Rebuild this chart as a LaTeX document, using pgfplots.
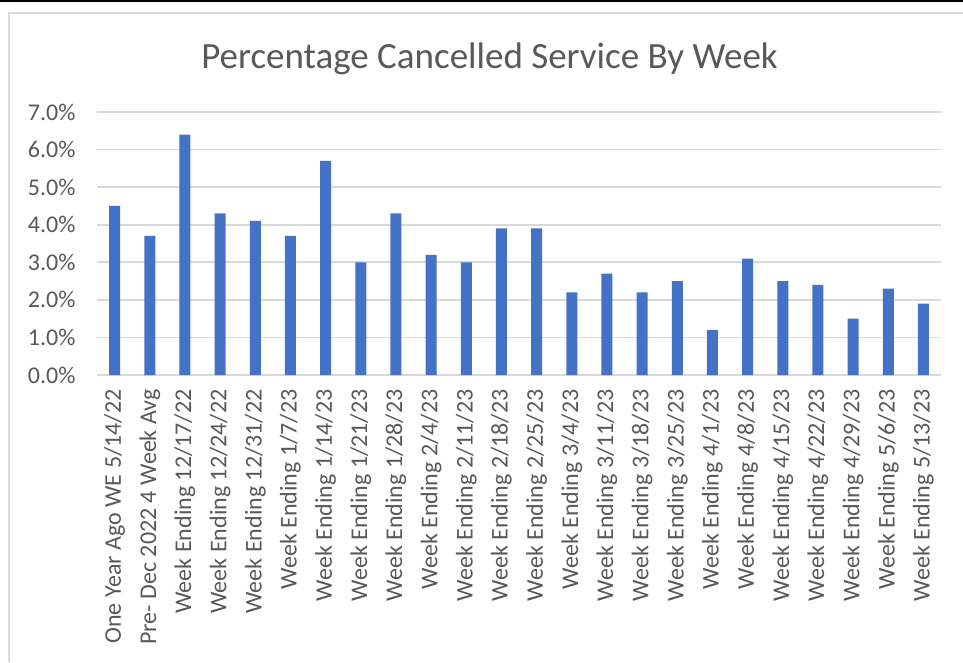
\documentclass[border=0pt]{standalone}
\usepackage{pgfplots}
\pgfplotsset{compat=1.18}
\usepackage{fontspec}
\setmainfont{Carlito}
\definecolor{barblue}{HTML}{4472C4}
\definecolor{gridgray}{HTML}{D9D9D9}
\definecolor{txtgray}{HTML}{595959}
\begin{document}
\begin{tikzpicture}
\useasboundingbox (0pt,0pt) rectangle (963pt,662pt);
\fill[white] (0pt,0pt) rectangle (963pt,662pt);
\draw[black, line width=2pt] (0pt,661pt) -- (963pt,661pt);
\draw[gridgray, line width=2pt] (8.5pt,0pt) -- (8.5pt,649pt) -- (963pt,649pt);
\node[anchor=base, text=txtgray, font=\fontsize{37}{43}\selectfont] at (489.5pt,593pt) {Percentage Cancelled Service By Week};
\begin{axis}[
  at={(97pt,287pt)}, anchor=south west,
  width=844pt, height=263pt, scale only axis,
  xmin=-0.5, xmax=23.5, ymin=0, ymax=7,
  axis line style={draw=none},
  tick style={draw=none},
  ymajorgrids, grid style={gridgray, line width=1.6pt},
  ytick={0,1,2,3,4,5,6,7},
  yticklabels={0.0\%,1.0\%,2.0\%,3.0\%,4.0\%,5.0\%,6.0\%,7.0\%},
  xtick={0,...,23},
  xticklabels={One Year Ago WE 5/14/22, Pre- Dec 2022 4 Week Avg, Week Ending 12/17/22, Week Ending 12/24/22, Week Ending 12/31/22, Week Ending 1/7/23, Week Ending 1/14/23, Week Ending 1/21/23, Week Ending 1/28/23, Week Ending 2/4/23, Week Ending 2/11/23, Week Ending 2/18/23, Week Ending 2/25/23, Week Ending 3/4/23, Week Ending 3/11/23, Week Ending 3/18/23, Week Ending 3/25/23, Week Ending 4/1/23, Week Ending 4/8/23, Week Ending 4/15/23, Week Ending 4/22/23, Week Ending 4/29/23, Week Ending 5/6/23, Week Ending 5/13/23},
  major tick length=0pt,
  ticklabel style={text=txtgray, font=\fontsize{24}{28}\selectfont},
  yticklabel style={anchor=east, xshift=-18pt},
  xticklabel style={rotate=90, anchor=east, xshift=-11pt},
  /pgf/number format/assume math mode=true,
  clip=false,
]
\addplot[ybar, bar width=11pt, fill=barblue, draw=none] coordinates {
(0,4.5) (1,3.7) (2,6.4) (3,4.3) (4,4.1) (5,3.7) (6,5.7) (7,3.0) (8,4.3) (9,3.2) (10,3.0) (11,3.9) (12,3.9) (13,2.2) (14,2.7) (15,2.2) (16,2.5) (17,1.2) (18,3.1) (19,2.5) (20,2.4) (21,1.5) (22,2.3) (23,1.9)
};
\end{axis}
\end{tikzpicture}
\end{document}
